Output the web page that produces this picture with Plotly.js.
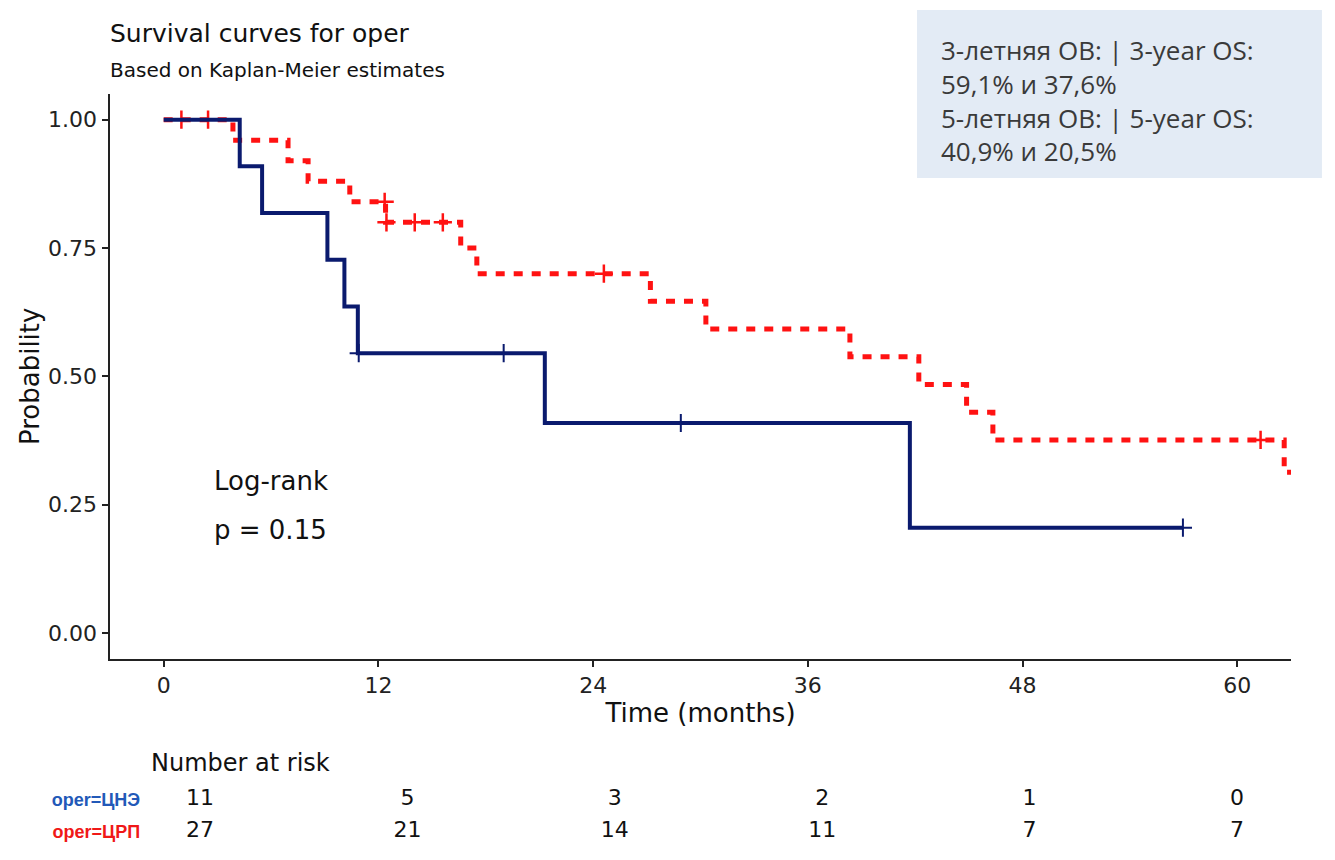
<!DOCTYPE html>
<html>
<head>
<meta charset="utf-8">
<script src="https://cdn.plot.ly/plotly-3.0.1.min.js"></script>
<style>html,body{margin:0;padding:0;background:#fff;}#chart{width:1335px;height:860px;}</style>
</head>
<body>
<div id="chart"></div>
<script>
// ---- Data ----
// Group "oper=ЦНЭ" (navy, solid)
const cneStepTime = [0, 4.25, 5.5, 9.15, 10.1, 10.85, 21.3, 41.7, 56.96];
const cneStepSurv = [1.0, 0.909, 0.818, 0.727, 0.636, 0.545, 0.409, 0.205, 0.205];
const cneCensorTime = [10.9, 19.0, 28.9, 56.96];
const cneCensorSurv = [0.545, 0.545, 0.409, 0.205];

// Group "oper=ЦРП" (red, dashed)
const crpStepTime = [0, 3.87, 6.95, 8.07, 10.4, 12.4, 16.6, 17.5, 27.2, 30.3, 38.35, 42.2, 44.87, 46.34, 62.62, 64];
const crpStepSurv = [1.0, 0.96, 0.92, 0.88, 0.84, 0.80, 0.75, 0.70, 0.646, 0.592, 0.538, 0.484, 0.430, 0.376, 0.313, 0.313];
const crpCensorTime = [0.99, 2.48, 12.35, 12.45, 14.03, 15.6, 24.6, 61.3];
const crpCensorSurv = [1.0, 1.0, 0.84, 0.80, 0.80, 0.80, 0.70, 0.376];

// Number at risk table
const riskTimes = [0, 12, 24, 36, 48, 60];
const riskCne = [11, 5, 3, 2, 1, 0];
const riskCrp = [27, 21, 14, 11, 7, 7];
const groupLabels = ['oper=ЦНЭ', 'oper=ЦРП'];

const xTicks = [0, 12, 24, 36, 48, 60];
const yTicks = [0, 0.25, 0.5, 0.75, 1.0];
const yTickText = ['0.00', '0.25', '0.50', '0.75', '1.00'];

const boxLines = ['3-летняя ОВ: | 3-year OS:', '59,1% и 37,6%', '5-летняя ОВ: | 5-year OS:', '40,9% и 20,5%'];

// ---- Styles ----
const NAVY = '#0a1a6e';
const RED = '#ff1212';
const FONT = 'DejaVu Sans, Liberation Sans, Arial, sans-serif';

const traces = [
  {x: crpStepTime, y: crpStepSurv, type: 'scatter', mode: 'lines', line: {shape: 'hv', color: RED, width: 5, dash: '9px,9px'}, hoverinfo: 'skip', xaxis: 'x', yaxis: 'y'},
  {x: crpCensorTime, y: crpCensorSurv, type: 'scatter', mode: 'markers', marker: {symbol: 'cross-thin', size: 13, line: {color: RED, width: 2.5}}, xaxis: 'x', yaxis: 'y'},
  {x: cneStepTime, y: cneStepSurv, type: 'scatter', mode: 'lines', line: {shape: 'hv', color: NAVY, width: 4}, hoverinfo: 'skip', xaxis: 'x', yaxis: 'y'},
  {x: cneCensorTime, y: cneCensorSurv, type: 'scatter', mode: 'markers', marker: {symbol: 'cross-thin', size: 13, line: {color: NAVY, width: 2}}, xaxis: 'x', yaxis: 'y'},
  {x: riskTimes, y: riskTimes.map(() => groupLabels[0]), text: riskCne.map(String), type: 'scatter', mode: 'text', textfont: {family: FONT, size: 22, color: '#111'}, textposition: 'middle center', xaxis: 'x2', yaxis: 'y2', hoverinfo: 'skip'},
  {x: riskTimes, y: riskTimes.map(() => groupLabels[1]), text: riskCrp.map(String), type: 'scatter', mode: 'text', textfont: {family: FONT, size: 22, color: '#111'}, textposition: 'middle center', xaxis: 'x2', yaxis: 'y2', hoverinfo: 'skip'}
];

const annotations = [
  {xref: 'paper', yref: 'paper', x: -0.0017, y: 1.0809, xanchor: 'left', yanchor: 'middle', text: 'Survival curves for oper', showarrow: false, font: {family: FONT, size: 25, color: '#111'}},
  {xref: 'paper', yref: 'paper', x: -0.0017, y: 1.0318, xanchor: 'left', yanchor: 'middle', text: 'Based on Kaplan-Meier estimates', showarrow: false, font: {family: FONT, size: 20, color: '#111'}},
  {xref: 'x', yref: 'y', x: 2.7, y: 0.296, xanchor: 'left', yanchor: 'middle', text: 'Log-rank', showarrow: false, font: {family: FONT, size: 26, color: '#111'}},
  {xref: 'x', yref: 'y', x: 2.7, y: 0.2, xanchor: 'left', yanchor: 'middle', text: 'p = 0.15', showarrow: false, font: {family: FONT, size: 26, color: '#111'}},
  {xref: 'paper', yref: 'paper', x: 0.0330, y: 0.1127, xanchor: 'left', yanchor: 'middle', text: 'Number at risk', showarrow: false, font: {family: FONT, size: 24, color: '#111'}},
  {xref: 'paper', yref: 'paper', x: 0.7020, y: 0.992, xanchor: 'left', yanchor: 'middle', align: 'left',
   text: boxLines.join('<br>'), showarrow: false, font: {family: 'Open Sans, Noto Sans, sans-serif', size: 26, color: '#3a3a3a'}}
];

const layout = {
  width: 1335, height: 860,
  margin: {l: 110, r: 44, t: 94, b: 12},
  paper_bgcolor: '#ffffff', plot_bgcolor: '#ffffff',
  showlegend: false,
  font: {family: FONT, color: '#111'},
  xaxis: {
    domain: [0, 1], range: [-3, 63], anchor: 'y',
    tickvals: xTicks, ticktext: xTicks.map(String),
    ticks: 'outside', ticklen: 6, tickwidth: 2, tickcolor: '#222',
    showline: true, linecolor: '#222', linewidth: 2.5,
    showgrid: false, zeroline: false,
    tickfont: {family: FONT, size: 22, color: '#222'},
    title: {text: 'Time (months)', font: {family: FONT, size: 26, color: '#111'}, standoff: 4}
  },
  yaxis: {
    domain: [0.2512, 1], range: [-0.05, 1.05], anchor: 'x',
    tickvals: yTicks, ticktext: yTickText,
    ticks: 'outside', ticklen: 6, tickwidth: 2, tickcolor: '#222',
    showline: true, linecolor: '#222', linewidth: 2.5,
    showgrid: false, zeroline: false,
    tickfont: {family: FONT, size: 22, color: '#222'},
    title: {text: 'Probability', font: {family: FONT, size: 26, color: '#111'}, standoff: 1}
  },
  xaxis2: {
    domain: [0.0323, 0.9982], range: [-3, 63], anchor: 'y2',
    visible: false, showgrid: false, zeroline: false
  },
  yaxis2: {
    domain: [0, 0.0849], anchor: 'x2', type: 'category',
    categoryorder: 'array', categoryarray: [groupLabels[1], groupLabels[0]],
    range: [-0.5, 1.5],
    tickvals: [groupLabels[0], groupLabels[1]],
    ticktext: ['<span style="color:#2259b8"><b>' + groupLabels[0] + '</b></span>', '<span style="color:#f01818"><b>' + groupLabels[1] + '</b></span>'],
    tickfont: {family: 'Liberation Sans, Arial, sans-serif', size: 18},
    ticks: '', showline: false, showgrid: false, zeroline: false, ticklabelstandoff: 7
  },
  shapes: [
    {type: 'rect', xref: 'paper', yref: 'paper', x0: 0.6833, x1: 1.0262, y0: 0.8886, y1: 1.1114, fillcolor: '#e3ebf5', line: {width: 0}, layer: 'below'}
  ],
  annotations: annotations
};

Plotly.newPlot('chart', traces, layout, {staticPlot: true, displayModeBar: false});
</script>
</body>
</html>
